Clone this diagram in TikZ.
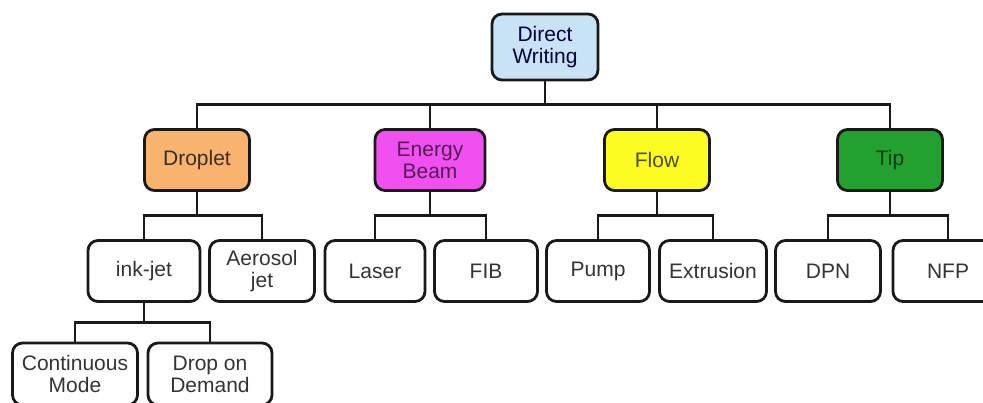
\documentclass[tikz,border=0pt]{standalone}
\usepackage{fontspec}
\setmainfont{Liberation Sans}
\usepackage{tikz}
\usetikzlibrary{calc}
\definecolor{dwblue}{HTML}{C8E2F6}
\definecolor{droporange}{HTML}{F8B46E}
\definecolor{beammag}{HTML}{F150F0}
\definecolor{flowyel}{HTML}{FCFC22}
\definecolor{tipgreen}{HTML}{22A030}
\tikzset{
	box/.style={draw=black!90, line width=2.8pt, rounded corners=10pt, align=center, inner sep=0pt,
		minimum width=105pt, minimum height=61pt, font=\fontsize{21}{22}\selectfont, text=black!80},
	link/.style={draw=black!90, line width=2.8pt,
		to path={(\tikztostart) |- ($(\tikztostart)!.5!(\tikztotarget)$) -| (\tikztotarget)}}
}
\begin{document}
\begin{tikzpicture}[x=1pt, y=-1pt]
\useasboundingbox (0,0) rectangle (983,403);
\node[box, fill=dwblue, minimum width=106pt, minimum height=66pt, text=blue!25!black] (dw) at (545,47) {Direct\\Writing};
\node[box, fill=droporange, text=droporange!25!black] (drop) at (197,160) {Droplet};
\node[box, fill=beammag, minimum width=110pt, text=beammag!35!black] (beam) at (430,160) {Energy\\Beam};
\node[box, fill=flowyel, text=flowyel!30!black] (flow) at (657,160) {Flow};
\node[box, fill=tipgreen, text=tipgreen!40!black] (tip) at (890,160) {Tip};
\node[box, minimum width=112pt] (inkjet) at (144,271) {ink-jet};
\node[box] (aero) at (262,271) {Aerosol\\jet};
\node[box, minimum width=100pt] (laser) at (375,271) {Laser};
\node[box, minimum width=103pt] (fib) at (486,271) {FIB};
\node[box, minimum width=103pt] (pump) at (598,271) {Pump};
\node[box, minimum width=107pt] (extr) at (713,271) {Extrusion};
\node[box] (dpn) at (828,271) {DPN};
\node[box, minimum width=110pt] (nfp) at (948,271) {NFP};
\node[box, minimum width=125pt, minimum height=62pt] (cm) at (75,374) {Continuous\\Mode};
\node[box, minimum width=124pt, minimum height=62pt] (dod) at (210,374) {Drop on\\Demand};
\path[link]
(dw.south) edge (drop.north)
edge (beam.north)
edge (flow.north)
edge (tip.north)
(drop.south) edge (inkjet.north)
edge (aero.north)
(beam.south) edge (laser.north)
edge (fib.north)
(flow.south) edge (pump.north)
edge (extr.north)
(tip.south) edge (dpn.north)
edge (nfp.north)
(inkjet.south) edge (cm.north)
edge (dod.north)
;
\end{tikzpicture}
\end{document}
